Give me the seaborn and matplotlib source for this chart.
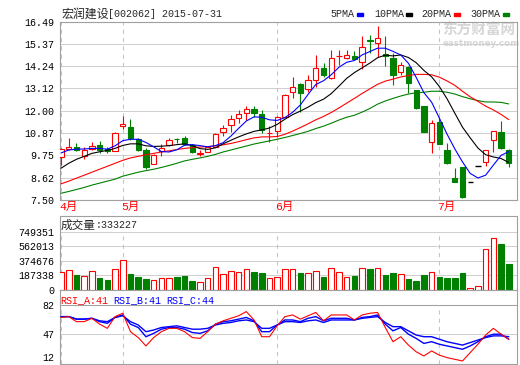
import matplotlib
matplotlib.use('Agg')
import matplotlib.pyplot as plt
import matplotlib.transforms as mtransforms
from matplotlib.patches import Rectangle
import seaborn as sns

# daily bars, 2015-04 .. 2015-07-31 (trading days shown on the chart)
opens = [9.65, 10.08, 10.17, 9.73, 10.07, 10.25, 10.05, 9.96, 11.24, 11.16,
         10.55, 10.02, 9.31, 9.97, 10.25, 10.59, 10.64, 10.25, 9.83, 9.94,
         10.19, 10.95, 11.26, 11.62, 11.87, 12.07, 11.82, 10.88, 10.99, 11.70,
         12.93, 13.33, 13.11, 13.55, 14.17, 13.63, 14.76, 14.68, 14.76, 14.45,
         15.54, 15.40, 14.88, 14.64, 13.93, 14.22, 13.04, 12.24, 10.44, 11.45,
         10.00, 8.59, 9.16, 8.43, 9.20, 9.43, 10.52, 10.94, 10.02]
highs = [10.12, 10.61, 10.36, 10.19, 10.44, 10.48, 10.19, 10.93, 11.75, 11.57,
         10.60, 10.10, 9.82, 10.33, 10.61, 10.63, 10.71, 10.30, 10.02, 10.24,
         10.86, 11.28, 11.78, 12.04, 12.25, 12.22, 12.04, 11.22, 11.72, 12.82,
         13.68, 13.38, 13.80, 14.81, 14.39, 15.06, 15.06, 15.06, 15.02, 15.78,
         15.81, 16.26, 15.76, 14.89, 14.47, 14.25, 13.06, 12.26, 11.53, 11.70,
         10.36, 9.10, 9.18, 8.43, 9.20, 10.04, 11.00, 11.50, 10.05]
lows = [9.28, 10.02, 9.97, 9.57, 10.00, 9.86, 9.86, 9.95, 11.10, 10.52,
        9.96, 9.05, 9.30, 9.74, 10.22, 10.37, 10.27, 9.87, 9.72, 9.90,
        10.16, 10.72, 10.95, 11.36, 11.53, 11.70, 10.86, 10.43, 10.69, 11.67,
        12.62, 11.95, 12.96, 13.21, 13.68, 13.60, 14.30, 14.60, 14.58, 14.10,
        14.89, 14.72, 14.25, 13.29, 13.80, 12.91, 12.10, 10.92, 9.88, 10.30,
        9.33, 8.40, 7.62, 8.43, 9.20, 9.23, 9.93, 10.05, 9.18]
closes = [10.05, 10.16, 10.03, 10.03, 10.24, 10.03, 9.95, 10.88, 11.33, 10.62,
          10.00, 9.18, 9.77, 10.13, 10.51, 10.55, 10.34, 9.93, 9.89, 10.19,
          10.83, 11.11, 11.58, 11.82, 12.07, 11.87, 11.03, 10.90, 11.68, 12.79,
          13.18, 12.91, 13.53, 14.17, 13.78, 14.67, 14.78, 14.81, 14.60, 15.20,
          15.50, 15.66, 14.78, 13.80, 14.30, 13.41, 12.12, 10.94, 11.36, 10.32,
          9.35, 8.42, 7.67, 8.43, 9.20, 10.02, 10.98, 10.14, 9.38]
volumes = [226000, 248000, 183000, 170000, 240000, 148000, 122000, 261000, 379000, 200000,
           161000, 135000, 118000, 144000, 144000, 161000, 170000, 109000, 96000, 144000,
           288000, 196000, 240000, 226000, 261000, 226000, 213000, 148000, 161000, 261000,
           261000, 213000, 213000, 240000, 161000, 274000, 226000, 161000, 174000, 274000,
           266000, 274000, 187000, 213000, 200000, 135000, 109000, 187000, 226000, 161000,
           148000, 148000, 213000, 13000, 39000, 523000, 667000, 593000, 333227]

ma5 = [9.87, 10.02, 10.06, 10.07, 10.10, 10.10, 10.06, 10.23, 10.49, 10.56,
       10.56, 10.40, 10.18, 9.94, 9.92, 10.03, 10.26, 10.29, 10.24, 10.18,
       10.24, 10.39, 10.72, 11.11, 11.48, 11.69, 11.67, 11.54, 11.51, 11.65,
       11.92, 12.29, 12.82, 13.32, 13.51, 13.81, 14.19, 14.44, 14.53, 14.81,
       14.98, 15.15, 15.15, 14.99, 14.81, 14.39, 13.68, 12.91, 12.43, 11.63,
       10.82, 10.08, 9.42, 8.84, 8.61, 8.75, 9.26, 9.75, 9.94]
ma10 = [9.10, 9.35, 9.55, 9.70, 9.85, 9.93, 10.00, 10.10, 10.25, 10.33,
        10.33, 10.23, 10.20, 10.21, 10.24, 10.29, 10.33, 10.24, 10.09, 10.05,
        10.13, 10.33, 10.51, 10.68, 10.83, 10.96, 11.03, 11.13, 11.31, 11.57,
        11.80, 11.98, 12.18, 12.41, 12.58, 12.86, 13.24, 13.63, 13.92, 14.16,
        14.40, 14.67, 14.80, 14.76, 14.81, 14.68, 14.42, 14.03, 13.71, 13.22,
        12.60, 11.88, 11.17, 10.63, 10.12, 9.78, 9.67, 9.59, 9.39]
ma20 = [8.31, 8.45, 8.60, 8.75, 8.90, 9.05, 9.20, 9.35, 9.50, 9.62,
        9.70, 9.78, 9.85, 9.92, 9.98, 10.04, 10.10, 10.14, 10.17, 10.19,
        10.23, 10.28, 10.35, 10.44, 10.54, 10.63, 10.68, 10.68, 10.70, 10.81,
        10.97, 11.15, 11.34, 11.54, 11.71, 11.91, 12.14, 12.38, 12.62, 12.87,
        13.10, 13.33, 13.49, 13.59, 13.70, 13.77, 13.83, 13.83, 13.81, 13.69,
        13.50, 13.28, 12.98, 12.70, 12.47, 12.23, 12.04, 11.81, 11.55]
ma30 = [7.84, 7.93, 8.03, 8.13, 8.25, 8.35, 8.45, 8.55, 8.70, 8.80,
        8.90, 8.98, 9.05, 9.14, 9.24, 9.35, 9.47, 9.55, 9.62, 9.70,
        9.80, 9.92, 10.02, 10.12, 10.22, 10.32, 10.40, 10.48, 10.56, 10.65,
        10.75, 10.85, 10.96, 11.10, 11.22, 11.37, 11.53, 11.67, 11.77, 11.93,
        12.11, 12.33, 12.49, 12.62, 12.74, 12.84, 12.90, 12.93, 12.98, 12.98,
        12.93, 12.84, 12.71, 12.60, 12.51, 12.44, 12.44, 12.42, 12.34]

rsi_a = [67, 68, 62, 62, 66, 59, 54, 68, 72, 50, 43, 33, 43, 50, 54, 54, 50, 43, 42, 50,
         59, 63, 66, 69, 74, 64, 44, 44, 57, 68, 70, 65, 69, 73, 63, 70, 70, 70, 64, 70,
         72, 73, 55, 38, 44, 34, 26, 21, 27, 22, 19, 17, 15, 25, 35, 46, 54, 47, 41]
rsi_b = [68, 68, 65, 65, 66, 62, 60, 67, 70, 59, 55, 44, 48, 53, 55, 55, 53, 49, 48, 51,
         59, 62, 63, 65, 67, 63, 50, 50, 58, 64, 64, 62, 66, 68, 63, 66, 66, 66, 64, 67,
         68, 70, 59, 51, 55, 47, 42, 36, 38, 35, 33, 31, 29, 33, 38, 44, 47, 47, 41]
rsi_c = [68, 68, 65, 65, 66, 63, 62, 67, 69, 62, 58, 50, 52, 55, 56, 57, 55, 53, 53, 54,
         58, 60, 61, 63, 64, 62, 54, 54, 58, 62, 62, 61, 63, 64, 61, 64, 64, 64, 64, 66,
         67, 68, 61, 56, 56, 51, 46, 44, 44, 41, 38, 36, 34, 37, 40, 43, 45, 45, 44]

month_labels = ['4', '5', '6', '7']
month_first_bar = [0, 8, 28, 49]

price_ticks = ['7.50', '8.62', '9.75', '10.87', '12.00', '13.12', '14.24', '15.37', '16.49']
volume_ticks = ['0', '187338', '374676', '562013', '749351']
rsi_ticks = ['12', '47', '82']

W, H = 520, 365
RED, GREEN, BLUE = '#ff0000', '#008000', '#0000ff'
GRID, FRAME = '#d0d0d0', '#a0a0a0'
MONO = 'Liberation Mono'
CJK = 'Noto Sans CJK SC'

sns.set_theme(style='white')
plt.rcParams['font.family'] = [MONO, CJK]

fig = plt.figure(figsize=(W / 100, H / 100), dpi=100)


def add_ax(x0, y0, x1, y1):
    return fig.add_axes([x0 / W, 1 - y1 / H, (x1 - x0) / W, (y1 - y0) / H])


def fx(x):
    return x / W


def fy(y):
    return 1 - y / H


n = len(closes)
idx = list(range(n))
xlim = (-0.13, 59.06)

ax1 = add_ax(60, 21.6, 517, 200)
ax2 = add_ax(60, 216, 517, 289.5)
ax3 = add_ax(60, 289.5, 517, 364)

for ax in (ax1, ax2, ax3):
    ax.set_xlim(*xlim)
    ax.set_xticks([])
    for s in ax.spines.values():
        s.set_color(FRAME)
        s.set_linewidth(0.8)
    ax.tick_params(axis='y', length=0, pad=4, labelsize=7.2, colors='black')
    ax.set_facecolor('white')

# ---- price panel
p_vals = [float(t) for t in price_ticks]
ax1.set_ylim(p_vals[0], p_vals[-1])
ax1.set_yticks(p_vals)
ax1.set_yticklabels(price_ticks, family=MONO)
for v in p_vals:
    ax1.axhline(v, color=GRID, lw=0.75, zorder=1)
for i in month_first_bar:
    ax1.axvline(i, color='#c4c4c4', lw=0.75, ls=(0, (4, 4)), zorder=1)

ax1.text(fx(442), fy(30), '东方财富网', transform=fig.transFigure, family=CJK,
         fontweight='bold', fontsize=10.5, color='#d6d6d6', va='center', zorder=0.5)
ax1.text(fx(443), fy(43), 'eastmoney.com', transform=fig.transFigure, family='DejaVu Sans',
         fontweight='bold', fontsize=6.3, color='#d6d6d6', va='center', zorder=0.5)

bw = 0.69
for i in idx:
    o, h, l, c = opens[i], highs[i], lows[i], closes[i]
    if c > o:
        ax1.vlines(i, l, o, color=RED, lw=0.8, zorder=4)
        ax1.vlines(i, c, h, color=RED, lw=0.8, zorder=4)
        ax1.add_patch(Rectangle((i - bw / 2, o), bw, c - o, facecolor='white',
                                edgecolor=RED, lw=0.8, zorder=4))
    elif c < o:
        ax1.vlines(i, l, h, color=GREEN, lw=0.8, zorder=4)
        ax1.add_patch(Rectangle((i - bw / 2, c), bw, o - c, facecolor=GREEN,
                                edgecolor=GREEN, lw=0.8, zorder=4))
    else:
        ax1.hlines(c, i - bw / 2, i + bw / 2, color='black', lw=1.0, zorder=4)

for vals, col in ((ma30, GREEN), (ma20, RED), (ma10, 'black'), (ma5, BLUE)):
    sns.lineplot(x=idx, y=vals, ax=ax1, color=col, linewidth=0.8, zorder=5)
ax1.set_xlabel('')
ax1.set_ylabel('')

# title and legend
fig.text(fx(61), fy(13.8), '宏润建设', family=CJK, fontsize=8.6, va='center')
fig.text(fx(108.5), fy(13.8), '[002062] 2015-07-31', family=MONO, fontsize=7.2, va='center')
leg = [('5PMA', 330.7, BLUE, 357), ('10PMA', 374, 'black', 406),
       ('20PMA', 421.7, RED, 454), ('30PMA', 470, GREEN, 503)]
for name, x, col, mx in leg:
    fig.text(fx(x), fy(14), name, family=MONO, fontsize=7.2, va='center')
    fig.add_artist(Rectangle((fx(mx), fy(15.5)), 6 / W, 2.5 / H, color=col,
                             transform=fig.transFigure))

# month labels
trans = mtransforms.blended_transform_factory(ax1.transData, fig.transFigure)
for lab, i in zip(month_labels, month_first_bar):
    fig.text(0, 0, lab + '月', transform=trans, color=RED, fontsize=8.2,
             va='center', family=[MONO, CJK]).set_position((i - 0.25, fy(207)))

# ---- volume panel
v_vals = [float(t) for t in volume_ticks]
ax2.set_ylim(0, 953000)
ax2.set_yticks(v_vals)
ax2.set_yticklabels(volume_ticks, family=MONO)
for v in v_vals[1:]:
    ax2.axhline(v, color=GRID, lw=0.75, zorder=1)
for i in month_first_bar:
    ax2.vlines(i, 0, v_vals[-1], color='#c4c4c4', lw=0.75, ls=(0, (4, 4)), zorder=1)
up = [closes[i] > opens[i] or (closes[i] == opens[i] and closes[i] >= closes[i - 1]) for i in idx]
ax2.bar([i for i in idx if up[i]], [volumes[i] for i in idx if up[i]], width=0.72,
        facecolor='white', edgecolor=RED, lw=0.8, zorder=3)
ax2.bar([i for i in idx if not up[i]], [volumes[i] for i in idx if not up[i]], width=0.72,
        facecolor=GREEN, edgecolor=GREEN, lw=0.8, zorder=3)
fig.text(fx(60.5), fy(225.5), '成交量', family=CJK, fontsize=8.4, va='center')
fig.text(fx(95.5), fy(225.5), ':%d' % volumes[-1], family=MONO, fontsize=7.2, va='center')

# ---- RSI panel
r_vals = [float(t) for t in rsi_ticks]
ax3.set_ylim(11.4, 100.4)
ax3.set_yticks(r_vals)
ax3.set_yticklabels(rsi_ticks, family=MONO)
ax3.get_yticklabels()[0].set_verticalalignment('bottom')
for v in r_vals[1:]:
    ax3.axhline(v, color=GRID, lw=0.75, zorder=1)
ax3.axhline(r_vals[-1], color=FRAME, lw=0.75, zorder=1)
for i in month_first_bar:
    ax3.vlines(i, 11.4, r_vals[-1], color='#c4c4c4', lw=0.75, ls=(0, (4, 4)), zorder=1)
sns.lineplot(x=idx, y=rsi_c, ax=ax3, color=BLUE, linewidth=1.0, zorder=4)
sns.lineplot(x=idx, y=rsi_b, ax=ax3, color=BLUE, linewidth=1.0, zorder=4)
sns.lineplot(x=idx, y=rsi_a, ax=ax3, color=RED, linewidth=0.8, zorder=5)
ax3.set_xlabel('')
ax3.set_ylabel('')
fig.text(fx(60), fy(300), 'RSI_A:%d' % rsi_a[-1], family=MONO, fontsize=7.2, color=RED, va='center')
fig.text(fx(113.3), fy(300), 'RSI_B:%d' % rsi_b[-1], family=MONO, fontsize=7.2, color=BLUE, va='center')
fig.text(fx(166.7), fy(300), 'RSI_C:%d' % rsi_c[-1], family=MONO, fontsize=7.2, color=BLUE, va='center')

fig.savefig('out.png', dpi=100, facecolor='white')
